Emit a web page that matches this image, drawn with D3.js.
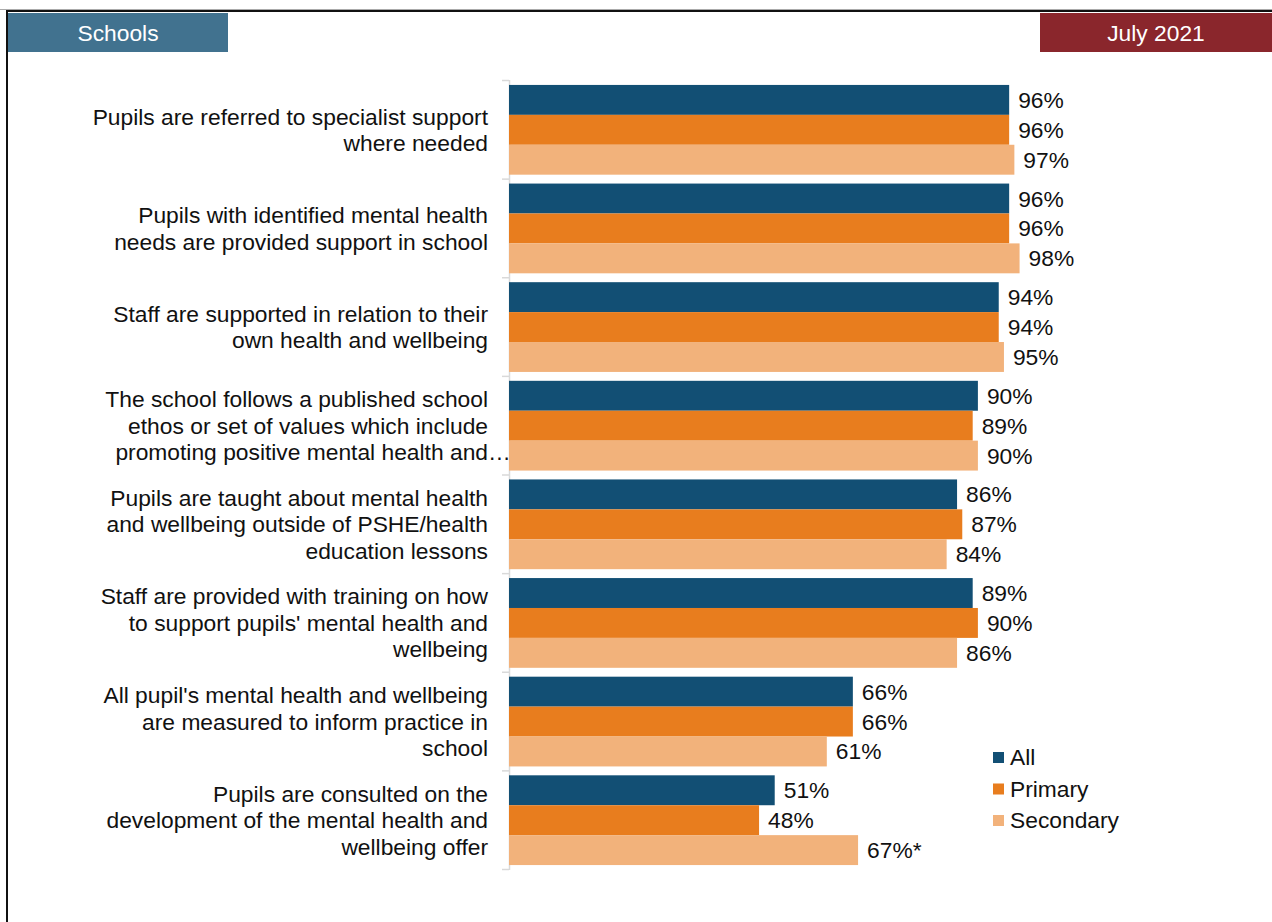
<!DOCTYPE html>
<html>
<head>
<meta charset="utf-8">
<script src="https://cdn.jsdelivr.net/npm/d3@7"></script>
<style>
  body { margin: 0; background: #fff; }
  svg { display: block; font-family: "Liberation Sans", Arial, sans-serif; }
</style>
</head>
<body>
<div id="chart"></div>
<script>
// categories (label lines as they wrap in the original)
let categories = [
  ["Pupils are referred to specialist support", "where needed"],
  ["Pupils with identified mental health", "needs are provided support in school"],
  ["Staff are supported in relation to their", "own health and wellbeing"],
  ["The school follows a published school", "ethos or set of values which include", "promoting positive mental health and…"],
  ["Pupils are taught about mental health", "and wellbeing outside of PSHE/health", "education lessons"],
  ["Staff are provided with training on how", "to support pupils' mental health and", "wellbeing"],
  ["All pupil's mental health and wellbeing", "are measured to inform practice in", "school"],
  ["Pupils are consulted on the", "development of the mental health and", "wellbeing offer"]
];

let seriesNames = ["All", "Primary", "Secondary"];
let allValues = [96, 96, 94, 90, 86, 89, 66, 51];
let primaryValues = [96, 96, 94, 89, 87, 90, 66, 48];
let secondaryValues = [97, 98, 95, 90, 84, 86, 61, 67];
let secondaryNotes = ["", "", "", "", "", "", "", "*"];
let colors = ["#124f74", "#e87d1e", "#f2b27b"];

let width = 1272, height = 922;
let fontSize = 22.8;

let svg = d3.select("#chart").append("svg").attr("width", width).attr("height", height);

// frame
svg.append("line").attr("x1", 0).attr("x2", width).attr("y1", 9.5).attr("y2", 9.5)
  .attr("stroke", "#aaa").attr("stroke-width", 1);
svg.append("line").attr("x1", 6).attr("x2", width).attr("y1", 11).attr("y2", 11)
  .attr("stroke", "#111").attr("stroke-width", 2);
svg.append("line").attr("x1", 7).attr("x2", 7).attr("y1", 10).attr("y2", height)
  .attr("stroke", "#111").attr("stroke-width", 2);

// header boxes
svg.append("rect").attr("x", 8).attr("y", 13).attr("width", 220).attr("height", 39).attr("fill", "#41728f");
svg.append("text").attr("x", 118).attr("y", 33).attr("dy", "0.35em").attr("text-anchor", "middle")
  .attr("fill", "#fff").attr("font-size", fontSize).text("Schools");
svg.append("rect").attr("x", 1040).attr("y", 13).attr("width", 232).attr("height", 39).attr("fill", "#8a262c");
svg.append("text").attr("x", 1156).attr("y", 33).attr("dy", "0.35em").attr("text-anchor", "middle")
  .attr("fill", "#fff").attr("font-size", fontSize).text("July 2021");

let data = categories.map(function(c, i) {
  return {
    index: i,
    lines: c,
    values: [allValues[i], primaryValues[i], secondaryValues[i]],
    notes: ["", "", secondaryNotes[i]]
  };
});

let x = d3.scaleLinear().domain([0, 100]).range([509, 1030]);

let y = d3.scaleBand()
  .domain(d3.range(categories.length))
  .range([80.5, 869.5])
  .paddingInner(0.09)
  .paddingOuter(0.045);

let y1 = d3.scaleBand()
  .domain(d3.range(seriesNames.length))
  .range([0, y.bandwidth()]);

// axis line with ticks between categories
let axisG = svg.append("g");
axisG.append("line").attr("x1", 509.5).attr("x2", 509.5).attr("y1", 80).attr("y2", 870)
  .attr("stroke", "#d9d9d9").attr("stroke-width", 1.5);
axisG.selectAll("line.tick")
  .data(d3.range(categories.length + 1))
  .enter().append("line")
  .attr("class", "tick")
  .attr("x1", 502).attr("x2", 509)
  .attr("y1", function(d) { return 80.5 + d * (789 / categories.length); })
  .attr("y2", function(d) { return 80.5 + d * (789 / categories.length); })
  .attr("stroke", "#d9d9d9").attr("stroke-width", 1.5);

let groups = svg.selectAll("g.cat")
  .data(data)
  .enter().append("g")
  .attr("class", "cat")
  .attr("transform", function(d) { return "translate(0," + y(d.index) + ")"; });

groups.selectAll("rect")
  .data(function(d) { return d.values.map(function(v, j) { return { v: v, j: j, note: d.notes[j] }; }); })
  .enter().append("rect")
  .attr("x", x(0))
  .attr("y", function(d) { return y1(d.j); })
  .attr("width", function(d) { return x(d.v) - x(0); })
  .attr("height", y1.bandwidth())
  .attr("fill", function(d) { return colors[d.j]; });

groups.selectAll("text.val")
  .data(function(d) { return d.values.map(function(v, j) { return { v: v, j: j, note: d.notes[j] }; }); })
  .enter().append("text")
  .attr("class", "val")
  .attr("x", function(d) { return x(d.v) + 9; })
  .attr("y", function(d) { return y1(d.j) + y1.bandwidth() / 2; })
  .attr("dy", "0.35em")
  .attr("font-size", fontSize)
  .attr("fill", "#111")
  .text(function(d) { return d.v + "%" + d.note; });

// category labels
let lineHeight = 26.5;
groups.each(function(d) {
  let g = d3.select(this);
  let cy = y.bandwidth() / 2;
  let n = d.lines.length;
  d.lines.forEach(function(line, k) {
    let ly = cy + (k - (n - 1) / 2) * lineHeight;
    let ell = line.endsWith("…");
    let txt = ell ? line.slice(0, -1) : line;
    g.append("text")
      .attr("x", 488)
      .attr("y", ly)
      .attr("dy", "0.35em")
      .attr("text-anchor", "end")
      .attr("font-size", fontSize)
      .attr("fill", "#111")
      .text(txt);
    if (ell) {
      g.append("text")
        .attr("x", 488)
        .attr("y", ly)
        .attr("dy", "0.35em")
        .attr("font-size", fontSize)
        .attr("fill", "#111")
        .text("…");
    }
  });
});

// legend
let legend = svg.append("g").attr("transform", "translate(993,757.5)");
let items = legend.selectAll("g")
  .data(seriesNames)
  .enter().append("g")
  .attr("transform", function(d, i) { return "translate(0," + (i * 31.5) + ")"; });
items.append("rect").attr("x", 0).attr("y", -5.5).attr("width", 11).attr("height", 11)
  .attr("fill", function(d, i) { return colors[i]; });
items.append("text").attr("x", 17).attr("y", 0).attr("dy", "0.35em")
  .attr("font-size", fontSize).attr("fill", "#111")
  .text(function(d) { return d; });
</script>
</body>
</html>
